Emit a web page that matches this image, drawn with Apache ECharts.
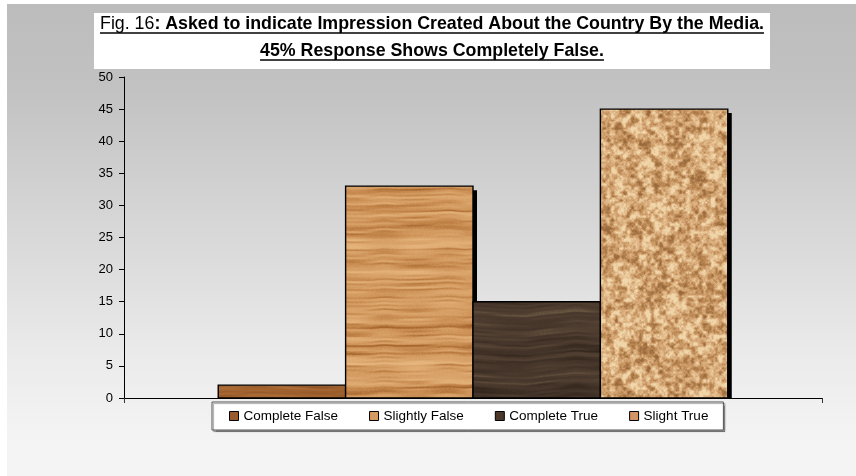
<!DOCTYPE html>
<html>
<head>
<meta charset="utf-8">
<title>Impression Created About the Country By the Media</title>
<script src="https://cdn.jsdelivr.net/npm/echarts@6/dist/echarts.min.js"></script>
<style>
  html, body { margin: 0; padding: 0; background: #fff; }
  #chart { width: 856px; height: 476px; }
</style>
</head>
<body>
<div id="chart"></div>
<script>
// ---- chart data ----
const categories = [''];
const seriesNames = ['Complete False', 'Slightly False', 'Complete True', 'Slight True'];
const seriesValues = [2, 33, 15, 45];
const yTickMin = 0;
const yTickMax = 50;
const yTickStep = 5;
const titlePrefix = 'Fig. 16';
const titleLine1 = ': Asked to indicate Impression Created About the Country By the Media.';
const titleLine2 = '45% Response Shows Completely False.';

// ---- texture helpers ----
function rng(seed) {
  return function () {
    seed |= 0; seed = seed + 0x6D2B79F5 | 0;
    let t = Math.imul(seed ^ seed >>> 15, 1 | seed);
    t = t + Math.imul(t ^ t >>> 7, 61 | t) ^ t;
    return ((t ^ t >>> 14) >>> 0) / 4294967296;
  };
}
function hex(c) { return [parseInt(c.slice(1, 3), 16), parseInt(c.slice(3, 5), 16), parseInt(c.slice(5, 7), 16)]; }
function ramp(stops, v) {
  v = Math.max(0, Math.min(1, v));
  for (let i = 1; i < stops.length; i++) {
    if (v <= stops[i][0]) {
      const a = stops[i - 1], b = stops[i];
      const t = (v - a[0]) / (b[0] - a[0] || 1);
      return [0, 1, 2].map(k => a[1][k] + (b[1][k] - a[1][k]) * t);
    }
  }
  return stops[stops.length - 1][1];
}
function noise1D(len, period, rand) {
  const knots = Math.round(len / period);
  const vals = Array.from({ length: knots }, () => rand());
  return function (p) {
    const f = p / period, i0 = Math.floor(f), t = f - i0;
    const a = vals[((i0 % knots) + knots) % knots];
    const b = vals[(((i0 + 1) % knots) + knots) % knots];
    const s = (1 - Math.cos(t * Math.PI)) / 2;
    return a * (1 - s) + b * s;
  };
}
function noise2D(w, h, cx, cy, rand) {
  const gw = Math.round(w / cx), gh = Math.round(h / cy);
  const g = Array.from({ length: gw * gh }, () => rand());
  return function (x, y) {
    const fx = x / cx, fy = y / cy;
    const x0 = Math.floor(fx), y0 = Math.floor(fy);
    const tx = fx - x0, ty = fy - y0;
    const sx = tx * tx * (3 - 2 * tx), sy = ty * ty * (3 - 2 * ty);
    const at = (i, j) => g[(((j % gh) + gh) % gh) * gw + (((i % gw) + gw) % gw)];
    const a = at(x0, y0), b = at(x0 + 1, y0), c = at(x0, y0 + 1), d = at(x0 + 1, y0 + 1);
    return (a * (1 - sx) + b * sx) * (1 - sy) + (c * (1 - sx) + d * sx) * sy;
  };
}
function paint(w, h, fn) {
  const cv = document.createElement('canvas');
  cv.width = w; cv.height = h;
  const ctx = cv.getContext('2d');
  const img = ctx.createImageData(w, h);
  for (let y = 0; y < h; y++) {
    for (let x = 0; x < w; x++) {
      const c = fn(x, y), o = (y * w + x) * 4;
      img.data[o] = c[0]; img.data[o + 1] = c[1]; img.data[o + 2] = c[2]; img.data[o + 3] = 255;
    }
  }
  ctx.putImageData(img, 0, 0);
  return cv;
}
// horizontal wood grain, streaks broken up along x
function woodTexture(seed, colors, contrast, wobbleAmp, breakup) {
  const w = 256, h = 256, rand = rng(seed);
  const n1 = noise1D(h, 8, rand), n2 = noise1D(h, 2, rand), n3 = noise1D(h, 32, rand);
  const wob = noise1D(w, 64, rand), wob2 = noise1D(w, 16, rand);
  const streak = noise2D(w, h, 32, 2, rand);
  const stops = colors.map(([p, c]) => [p, hex(c)]);
  return paint(w, h, (x, y) => {
    const yy = y + (wob(x) - 0.5) * wobbleAmp * 2 + (wob2(x) - 0.5) * wobbleAmp * 0.6;
    let v = 0.4 * n1(yy) + 0.4 * n2(yy) + 0.2 * n3(yy);
    v = v * (1 - breakup) + streak(x, yy) * breakup + (rand() - 0.5) * 0.06;
    v = (v - 0.5) * contrast + 0.5;
    return ramp(stops, v);
  });
}
// fine mottled cork
function corkTexture(seed) {
  const w = 256, h = 256, rand = rng(seed);
  const a = noise2D(w, h, 32, 32, rand), b = noise2D(w, h, 8, 8, rand), c = noise2D(w, h, 4, 4, rand), d = noise2D(w, h, 2, 2, rand);
  const stops = [[0, hex('#9a6a3e')], [0.3, hex('#b98752')], [0.5, hex('#cf9f6d')], [0.66, hex('#dbb080')], [0.82, hex('#e6c394')], [1, hex('#f0d6aa')]];
  return paint(w, h, (x, y) => {
    let v = 0.08 * a(x, y) + 0.27 * b(x, y) + 0.4 * c(x, y) + 0.25 * d(x, y) + (rand() - 0.5) * 0.08;
    v = (v - 0.5) * 2.0 + 0.56;
    return ramp(stops, v);
  });
}

const barFills = [
  { image: woodTexture(11, [[0, '#864d24'], [0.5, '#a2632f'], [1, '#b97a43']], 1.2, 2, 0.4), repeat: 'repeat' },
  { image: woodTexture(23, [[0, '#a4642c'], [0.3, '#c3864b'], [0.55, '#d59d63'], [1, '#e5b57d']], 1.5, 2.5, 0.35), repeat: 'repeat' },
  { image: woodTexture(37, [[0, '#2f2218'], [0.45, '#45352a'], [0.8, '#544233'], [1, '#66553f']], 1.3, 3, 0.35), repeat: 'repeat' },
  { image: corkTexture(51), repeat: 'repeat' }
];
const legendColors = ['#9a5c2c', '#d49a62', '#4a3828', '#d49464'];

// ---- title measurement for the underline ----
const FONT = '"Liberation Sans", Arial, sans-serif';
const TITLE_SIZE = 17.8;
const measureCtx = document.createElement('canvas').getContext('2d');
function textWidth(str, weight) {
  measureCtx.font = weight + ' ' + TITLE_SIZE + 'px ' + FONT;
  return measureCtx.measureText(str).width;
}
const TITLE_CX = 432;
const wPrefix = textWidth(titlePrefix, 'normal');
const wLine1 = textWidth(titleLine1, 'bold');
const wLine2 = textWidth(titleLine2, 'bold');
const x1 = TITLE_CX - (wPrefix + wLine1) / 2;
const x2 = TITLE_CX - wLine2 / 2;

// ---- bars drawn through the axis scales ----
const BAR_RATIO = 0.1825;   // width of one bar as a share of the category band
const SHADOW = 4;
function makeRenderer(idx) {
  return function (params, api) {
    const cat = api.value(0), val = api.value(1);
    const base = api.coord([cat, 0]);
    const top = api.coord([cat, val]);
    const band = api.size([1, 0])[0];
    const bw = band * BAR_RATIO;
    const left = base[0] - 2 * bw + idx * bw;
    const hgt = base[1] - top[1];
    return {
      type: 'group',
      children: [
        {
          type: 'rect',
          shape: { x: left + SHADOW, y: top[1] + SHADOW, width: bw, height: Math.max(0, hgt - SHADOW) },
          style: { fill: '#000' }
        },
        {
          type: 'rect',
          shape: { x: left, y: top[1], width: bw, height: hgt },
          style: { fill: barFills[idx], stroke: '#000', lineWidth: 1.4 }
        }
      ]
    };
  };
}

const chart = echarts.init(document.getElementById('chart'), null, { renderer: 'canvas' });
chart.setOption({
  animation: false,
  backgroundColor: '#ffffff',
  textStyle: { fontFamily: FONT },
  graphic: [
    {
      type: 'rect', z: -10, silent: true,
      shape: { x: 7, y: 4, width: 849, height: 472 },
      style: {
        fill: new echarts.graphic.LinearGradient(0, 0, 0, 1, [
          { offset: 0, color: '#bcbcbc' },
          { offset: 0.18, color: '#c2c2c2' },
          { offset: 0.5, color: '#d9d9d9' },
          { offset: 0.75, color: '#ebebeb' },
          { offset: 0.9, color: '#f3f3f3' },
          { offset: 1, color: '#f4f4f4' }
        ])
      }
    },
    { type: 'rect', z: 1, silent: true, shape: { x: 94, y: 13, width: 676, height: 56 }, style: { fill: '#ffffff' } },
    {
      type: 'text', z: 2, silent: true, x: x1, y: 24.5,
      style: { text: titlePrefix, font: 'normal ' + TITLE_SIZE + 'px ' + FONT, fill: '#000', align: 'left', verticalAlign: 'middle' }
    },
    {
      type: 'text', z: 2, silent: true, x: x1 + wPrefix, y: 24.5,
      style: { text: titleLine1, font: 'bold ' + TITLE_SIZE + 'px ' + FONT, fill: '#000', align: 'left', verticalAlign: 'middle' }
    },
    {
      type: 'line', z: 2, silent: true,
      shape: { x1: x1, y1: 33, x2: x1 + wPrefix + wLine1, y2: 33 },
      style: { stroke: '#000', lineWidth: 1.5 }
    },
    {
      type: 'text', z: 2, silent: true, x: x2, y: 51.5,
      style: { text: titleLine2, font: 'bold ' + TITLE_SIZE + 'px ' + FONT, fill: '#000', align: 'left', verticalAlign: 'middle' }
    },
    {
      type: 'line', z: 2, silent: true,
      shape: { x1: x2, y1: 60, x2: x2 + wLine2, y2: 60 },
      style: { stroke: '#000', lineWidth: 1.5 }
    }
  ],
  grid: { left: 124, right: 34, top: 77, bottom: 78, containLabel: false },
  legend: {
    left: 212, top: 402,
    orient: 'horizontal',
    padding: [7, 15, 7, 17],
    itemGap: 31,
    itemWidth: 9, itemHeight: 9,
    icon: 'rect',
    backgroundColor: '#ffffff',
    borderColor: '#555555', borderWidth: 1,
    shadowColor: 'rgba(0,0,0,0.35)', shadowBlur: 1, shadowOffsetX: 1.5, shadowOffsetY: 1.5,
    selectedMode: false,
    textStyle: { color: '#000', fontSize: 13.5, fontFamily: FONT },
    data: seriesNames.map((n, i) => ({
      name: n,
      itemStyle: { color: legendColors[i], borderColor: '#000', borderWidth: 1 }
    }))
  },
  xAxis: {
    type: 'category',
    data: categories,
    boundaryGap: true,
    axisLine: { show: true, lineStyle: { color: '#000', width: 1 } },
    axisTick: { show: true, length: 5, lineStyle: { color: '#333' } },
    axisLabel: { show: false },
    splitLine: { show: false }
  },
  yAxis: {
    type: 'value',
    min: yTickMin, max: yTickMax, interval: yTickStep,
    axisLine: { show: true, lineStyle: { color: '#000', width: 1 } },
    axisTick: { show: true, length: 5, lineStyle: { color: '#000' } },
    axisLabel: { color: '#000', fontSize: 13, margin: 11, fontFamily: FONT },
    splitLine: { show: false }
  },
  series: seriesNames.map((name, i) => ({
    name: name,
    type: 'custom',
    renderItem: makeRenderer(i),
    encode: { x: 0, y: 1 },
    itemStyle: { color: legendColors[i], borderColor: '#000', borderWidth: 1 },
    data: [[0, seriesValues[i]]],
    z: 2 + i
  }))
});
</script>
</body>
</html>
